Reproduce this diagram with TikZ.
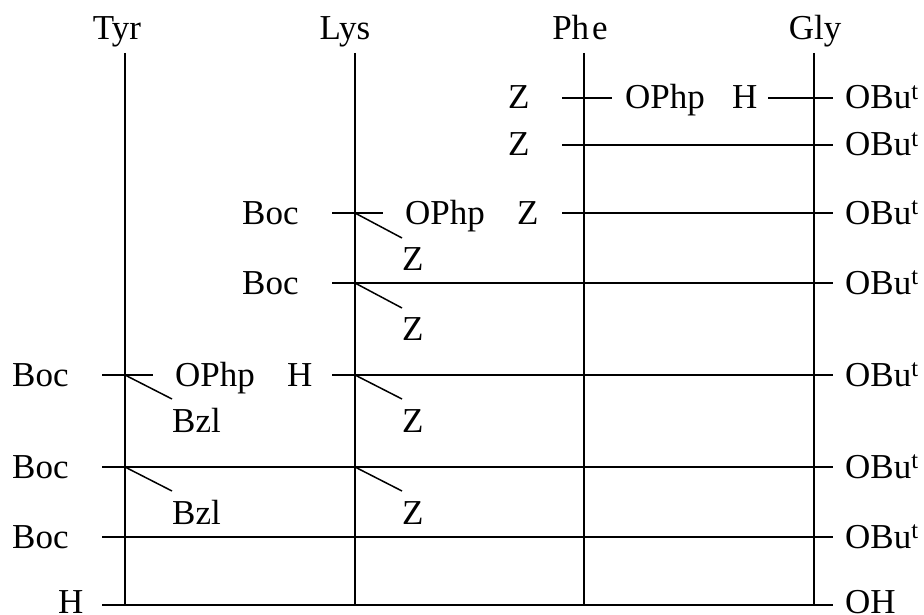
\documentclass[tikz,border=0pt]{standalone}
\usepackage{fontspec}
\setmainfont{Liberation Serif}
\begin{document}
\begin{tikzpicture}[x=1pt,y=-1pt,
  lbl/.style={anchor=base west,inner sep=0pt,font=\fontsize{35}{40}\selectfont},
  top/.style={anchor=base,inner sep=0pt,font=\fontsize{35}{40}\selectfont},
  ln/.style={line width=1.7pt},
  dg/.style={line width=1.5pt}]
\useasboundingbox (0,0) rectangle (924,615);
% column headings
\node[top] (tyr) at (117,40) {Tyr};
\node[top] (lys) at (345,40) {Lys};
\node[top] (phe) at (580,40) {Ph\kern3pt e};
\node[top] (gly) at (815,40) {Gly};
% vertical lines
\foreach \n/\x in {T/125,L/355,P/584,G/814}{
  \coordinate (\n t) at (\x,53);
  \coordinate (\n b) at (\x,605);
  \draw[ln] (\n t) -- (\n b);
}
% right-hand labels
\foreach \i/\y in {1/98,2/145,3/213,4/283,5/375,6/467,7/537}{
  \node[lbl] (ob\i) at (845,\y+11) {OBu\textsuperscript{t}};
  \coordinate (re\i) at (833,\y);
}
\node[lbl] (oh) at (845,613) {OH};
\coordinate (re8) at (833,605);
% row 1
\node[lbl] (z1) at (508,109) {Z};
\node[lbl] (op1) at (625,109) {OPhp};
\node[lbl] (h1) at (732,109) {H};
\coordinate (a1) at (562,98); \coordinate (b1) at (612,98); \coordinate (c1) at (768,98);
\draw[ln] (a1) -- (b1);
\draw[ln] (c1) -- (re1);
% row 2
\node[lbl] (z2) at (508,156) {Z};
\coordinate (a2) at (562,145);
\draw[ln] (a2) -- (re2);
% row 3
\node[lbl] (boc3) at (242,224) {Boc};
\node[lbl] (op3) at (405,224) {OPhp};
\node[lbl] (z3) at (517,224) {Z};
\node[lbl] (zs3) at (402,270) {Z};
\coordinate (a3) at (332,213); \coordinate (b3) at (383,213);
\coordinate (k3) at (355,213); \coordinate (d3) at (402,238);
\coordinate (c3) at (562,213);
\draw[ln] (a3) -- (b3);
\draw[dg] (k3) -- (d3);
\draw[ln] (c3) -- (re3);
% row 4
\node[lbl] (boc4) at (242,294) {Boc};
\node[lbl] (zs4) at (402,340) {Z};
\coordinate (a4) at (332,283);
\coordinate (k4) at (355,283); \coordinate (d4) at (402,308);
\draw[ln] (a4) -- (re4);
\draw[dg] (k4) -- (d4);
% row 5
\node[lbl] (boc5) at (12,386) {Boc};
\node[lbl] (op5) at (175,386) {OPhp};
\node[lbl] (h5) at (287,386) {H};
\node[lbl] (bz5) at (172,432) {Bzl};
\node[lbl] (zs5) at (402,432) {Z};
\coordinate (a5) at (102,375); \coordinate (b5) at (153,375);
\coordinate (t5) at (125,375); \coordinate (e5) at (172,399);
\coordinate (c5) at (332,375);
\coordinate (k5) at (355,375); \coordinate (d5) at (402,399);
\draw[ln] (a5) -- (b5);
\draw[dg] (t5) -- (e5);
\draw[ln] (c5) -- (re5);
\draw[dg] (k5) -- (d5);
% row 6
\node[lbl] (boc6) at (12,478) {Boc};
\node[lbl] (bz6) at (172,524) {Bzl};
\node[lbl] (zs6) at (402,524) {Z};
\coordinate (a6) at (102,467);
\coordinate (t6) at (125,467); \coordinate (e6) at (172,491);
\coordinate (k6) at (355,467); \coordinate (d6) at (402,491);
\draw[ln] (a6) -- (re6);
\draw[dg] (t6) -- (e6);
\draw[dg] (k6) -- (d6);
% row 7
\node[lbl] (boc7) at (12,548) {Boc};
\coordinate (a7) at (102,537);
\draw[ln] (a7) -- (re7);
% row 8
\node[lbl] (h8) at (58,613) {H};
\coordinate (a8) at (102,605);
\draw[ln] (a8) -- (re8);
\end{tikzpicture}
\end{document}
